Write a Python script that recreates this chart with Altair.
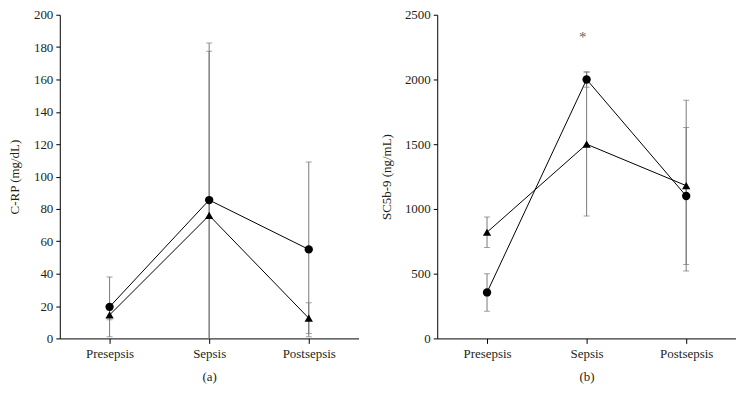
import altair as alt
import pandas as pd

categories = ["Presepsis", "Sepsis", "Postsepsis"]

crp_circle = [19.5, 85.5, 55.0]
crp_circle_err = [18.5, 97.0, 54.0]
crp_triangle = [14.5, 76.0, 12.5]
crp_triangle_err = [3.0, 101.5, 9.5]

sc_circle = [355, 2000, 1100]
sc_circle_err = [145, 60, 530]
sc_triangle = [820, 1500, 1180]
sc_triangle_err = [118, 555, 660]

star_category = ["Sepsis"]
star_value = [2330]

FONT = "Liberation Serif"


def make_df(circle, cerr, tri, terr):
    rows = []
    for i, c in enumerate(categories):
        rows.append(dict(cat=c, grp="circle", v=circle[i],
                         lo=circle[i] - cerr[i], hi=circle[i] + cerr[i]))
        rows.append(dict(cat=c, grp="triangle", v=tri[i],
                         lo=tri[i] - terr[i], hi=tri[i] + terr[i]))
    return pd.DataFrame(rows)


def panel(df, ymax, ystep, ytitle, caption, extent, tpad, star=None):
    xenc = alt.X("cat:N",
                 scale=alt.Scale(type="point", domain=categories, padding=0.5),
                 axis=alt.Axis(title=caption, labelAngle=0, tickSize=5,
                               labelPadding=4, titlePadding=10))
    yscale = alt.Scale(domain=[0, ymax], nice=False, zero=True)
    yaxis = alt.Axis(title=ytitle, values=list(range(0, ymax + 1, ystep)),
                     format="d", tickSize=4, labelPadding=3, minExtent=extent,
                     maxExtent=extent, titlePadding=tpad)

    def Y(field):
        return alt.Y(field, scale=yscale, axis=yaxis)

    base = alt.Chart(df)
    bars = base.mark_rule(color="#7a7a7a", strokeWidth=1, clip=True).encode(
        x=xenc, y=Y("lo:Q"), y2="hi:Q")
    caps_hi = base.mark_tick(color="#7a7a7a", size=6, thickness=1, clip=True).encode(
        x=xenc, y=Y("hi:Q"))
    caps_lo = base.mark_tick(color="#7a7a7a", size=6, thickness=1, clip=True).encode(
        x=xenc, y=Y("lo:Q"))
    lines = base.mark_line(color="black", strokeWidth=1).encode(
        x=xenc, y=Y("v:Q"), detail="grp:N")
    pts = base.mark_point(filled=True, color="black", opacity=1, size=70).encode(
        x=xenc, y=Y("v:Q"),
        shape=alt.Shape("grp:N", scale=alt.Scale(domain=["circle", "triangle"],
                                                 range=["circle", "triangle-up"]),
                        legend=None))
    layers = [bars, caps_hi, caps_lo, lines, pts]
    if star is not None:
        sdf = pd.DataFrame({"cat": star_category, "v": star_value, "t": ["*"]})
        st = alt.Chart(sdf).mark_text(font=FONT, fontSize=15, color="#666666",
                                      dx=-4, dy=0).encode(
            x=xenc, y=Y("v:Q"), text="t:N")
        layers.append(st)
    return alt.layer(*layers).properties(width=300, height=325)


left = panel(make_df(crp_circle, crp_circle_err, crp_triangle, crp_triangle_err),
             200, 20, "C-RP (mg/dL)", "(a)", 29, 9)
right = panel(make_df(sc_circle, sc_circle_err, sc_triangle, sc_triangle_err),
              2500, 500, "SC5b-9 (ng/mL)", "(b)", 35, 9, star=True)

chart = alt.hconcat(left, right, spacing=22, background="white",
                    padding={"left": 1, "top": 0, "right": 0, "bottom": 0}).configure_view(
    stroke=None
).configure_axis(
    grid=False, domainColor="black", tickColor="black", labelColor="#231f20",
    titleColor="#231f20", labelFont=FONT, titleFont=FONT, labelFontSize=13,
    titleFontSize=13, titleFontWeight="normal", domainWidth=1, tickWidth=1
)

chart.save("out.html", embed_options={"renderer": "svg", "actions": False})
